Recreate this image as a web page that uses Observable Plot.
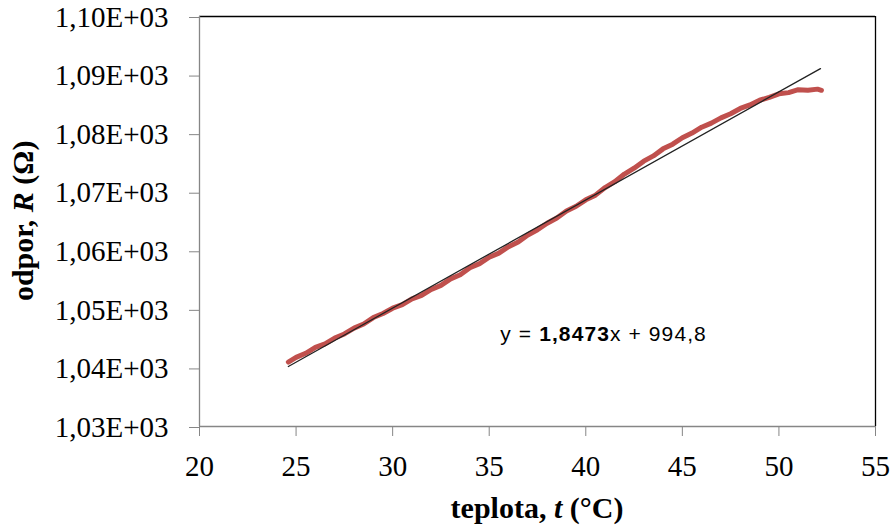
<!DOCTYPE html>
<html>
<head>
<meta charset="utf-8">
<script src="https://cdn.jsdelivr.net/npm/d3@7"></script>
<script src="https://cdn.jsdelivr.net/npm/@observablehq/plot@0.6"></script>
<style>
  html, body { margin: 0; padding: 0; background: #fff; }
  #chart svg { display: block; }
</style>
</head>
<body>
<div id="chart"></div>
<script>
const temperature = [24.6, 25.0, 25.5, 26.0, 26.5, 27.0, 27.5, 28.0, 28.5, 29.0, 29.5, 30.0, 30.5, 31.0, 31.5, 32.0, 32.5, 33.0, 33.5, 34.0, 34.5, 35.0, 35.5, 36.0, 36.5, 37.0, 37.5, 38.0, 38.5, 39.0, 39.5, 40.0, 40.5, 41.0, 41.5, 42.0, 42.5, 43.0, 43.5, 44.0, 44.5, 45.0, 45.5, 46.0, 46.5, 47.0, 47.5, 48.0, 48.5, 49.0, 49.5, 50.0, 50.5, 51.0, 51.5, 52.0, 52.2];
const resistance = [1041.0, 1041.8, 1042.5, 1043.5, 1044.1, 1045.1, 1045.8, 1046.8, 1047.5, 1048.6, 1049.3, 1050.2, 1050.8, 1051.8, 1052.4, 1053.4, 1054.1, 1055.2, 1055.9, 1057.1, 1057.8, 1058.9, 1059.6, 1060.7, 1061.5, 1062.7, 1063.6, 1064.7, 1065.6, 1066.8, 1067.6, 1068.7, 1069.5, 1070.8, 1071.8, 1073.1, 1074.1, 1075.3, 1076.2, 1077.4, 1078.2, 1079.3, 1080.1, 1081.1, 1081.8, 1082.7, 1083.4, 1084.3, 1084.9, 1085.7, 1086.2, 1086.8, 1087.0, 1087.5, 1087.4, 1087.6, 1087.4];

// Linear trendline endpoints: y = 1,8473x + 994,8
const trendT = [24.6, 52.15];
const trendR = [1040.25, 1091.1];

const xTicks = [20, 25, 30, 35, 40, 45, 50, 55];
const yTicks = [1030, 1040, 1050, 1060, 1070, 1080, 1090, 1100];
const yTickLabels = ["1,03E+03", "1,04E+03", "1,05E+03", "1,06E+03", "1,07E+03", "1,08E+03", "1,09E+03", "1,10E+03"];

const eqParts = [["y = ", "normal"], ["1,8473", "bold"], ["x + 994,8", "normal"]];
const eqT = 35.6, eqR = 1044.5;

const measured = temperature.map((t, i) => ({t, r: resistance[i]}));
const trend = trendT.map((t, i) => ({t, r: trendR[i]}));

const serif = "'Liberation Serif', 'Times New Roman', serif";
const gray = "#868686";

const plot = Plot.plot({
  width: 893,
  height: 526,
  marginLeft: 199,
  marginRight: 18,
  marginTop: 16,
  marginBottom: 100,
  style: {fontFamily: serif, fontSize: "29px", color: "#000", background: "#fff", overflow: "visible"},
  x: {domain: [20, 55]},
  y: {domain: [1030, 1100]},
  marks: [
    Plot.ruleY([1100], {stroke: "#000", strokeWidth: 1.3}),
    Plot.ruleX([55], {stroke: "#000", strokeWidth: 1.3}),
    Plot.ruleX([20], {stroke: gray, strokeWidth: 1.3}),
    Plot.ruleY([1030], {stroke: gray, strokeWidth: 1.3}),
    Plot.axisX({ticks: xTicks, tickSize: 10, tickPadding: 19, stroke: gray, fill: "#000", label: null, tickFormat: d => String(d)}),
    Plot.axisY({ticks: yTicks, tickSize: 10, tickPadding: 21, stroke: gray, fill: "#000", label: null, dy: 1,
      tickFormat: d => yTickLabels[yTicks.indexOf(d)]}),
    Plot.line(measured, {x: "t", y: "r", stroke: "#C0504D", strokeWidth: 5, strokeLinejoin: "round", strokeLinecap: "round"}),
    Plot.line(trend, {x: "t", y: "r", stroke: "#222", strokeWidth: 1.3})
  ]
});

document.getElementById("chart").appendChild(plot);

const svg = d3.select(plot);
const xs = plot.scale("x"), ys = plot.scale("y");

// Equation label
const eq = svg.append("text")
  .attr("x", xs.apply(eqT))
  .attr("y", ys.apply(eqR))
  .attr("text-anchor", "start")
  .attr("font-family", "'Liberation Sans', Arial, sans-serif")
  .attr("font-size", 21)
  .attr("letter-spacing", 1.1)
  .attr("fill", "#000");
eqParts.forEach(([s, w]) => eq.append("tspan").attr("font-weight", w).text(s));

// X axis title
const xt = svg.append("text")
  .attr("x", (199 + 875) / 2)
  .attr("y", 518)
  .attr("text-anchor", "middle")
  .attr("font-family", serif)
  .attr("font-size", 30)
  .attr("font-weight", "bold")
  .attr("fill", "#000");
xt.append("tspan").text("teplota, ");
xt.append("tspan").attr("font-style", "italic").text("t");
xt.append("tspan").text(" (°C)");

// Y axis title
const yt = svg.append("text")
  .attr("transform", `translate(33, ${(16 + 425.7) / 2}) rotate(-90)`)
  .attr("text-anchor", "middle")
  .attr("font-family", serif)
  .attr("font-size", 30)
  .attr("font-weight", "bold")
  .attr("fill", "#000");
yt.append("tspan").text("odpor, ");
yt.append("tspan").attr("font-style", "italic").text("R");
yt.append("tspan").text(" (Ω)");
</script>
</body>
</html>
